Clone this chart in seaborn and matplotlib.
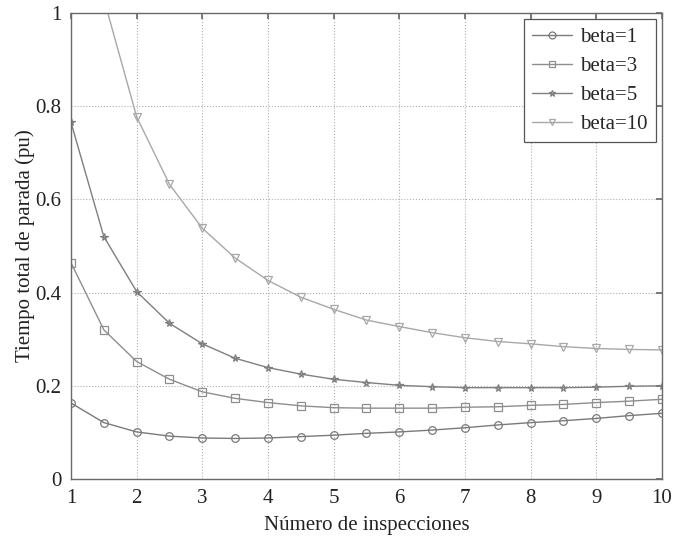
import numpy as np
import pandas as pd
import matplotlib
matplotlib.use("Agg")
import matplotlib.pyplot as plt
import seaborn as sns

x_vals = [1, 1.5, 2, 2.5, 3, 3.5, 4, 4.5, 5, 5.5, 6, 6.5, 7, 7.5, 8, 8.5, 9, 9.5, 10]
beta1 = [0.163, 0.121, 0.101, 0.092, 0.088, 0.087, 0.088, 0.091, 0.094, 0.098, 0.101,
         0.105, 0.110, 0.116, 0.121, 0.125, 0.130, 0.136, 0.141]
beta3 = [0.464, 0.320, 0.252, 0.214, 0.187, 0.173, 0.164, 0.157, 0.153, 0.152, 0.152,
         0.152, 0.154, 0.155, 0.158, 0.160, 0.164, 0.167, 0.171]
beta5 = [0.765, 0.520, 0.402, 0.334, 0.290, 0.259, 0.239, 0.225, 0.214, 0.207, 0.201,
         0.198, 0.196, 0.196, 0.196, 0.196, 0.197, 0.199, 0.200]
beta10 = [1.50, 1.03, 0.777, 0.632, 0.538, 0.474, 0.426, 0.390, 0.364, 0.341, 0.327,
          0.314, 0.303, 0.295, 0.290, 0.284, 0.280, 0.278, 0.277]
labels = ["beta=1", "beta=3", "beta=5", "beta=10"]
series = [beta1, beta3, beta5, beta10]

df = pd.concat([pd.DataFrame({"x": x_vals, "y": s, "serie": lab}) for s, lab in zip(series, labels)])

sns.set_theme(style="white")
plt.rcParams["font.family"] = ["Liberation Serif", "DejaVu Serif"]

fig = plt.figure(figsize=(6.9, 5.39), dpi=100)
ax = fig.add_axes([0.1029, 0.1113, 0.8565, 0.8648])

palette = {"beta=1": "#7a7a7a", "beta=3": "#8e8e8e", "beta=5": "#7f7f7f", "beta=10": "#a8a8a8"}
markers = {"beta=1": "o", "beta=3": "s", "beta=5": "*", "beta=10": "v"}
sns.lineplot(data=df, x="x", y="y", hue="serie", style="serie", palette=palette,
             markers=markers, dashes=False, ax=ax, linewidth=1.0, markersize=5.5,
             markerfacecolor="none", markeredgewidth=0.9, legend=True)
for line in ax.lines:
    line.set_markerfacecolor("none")
    line.set_markeredgecolor(line.get_color())

ax.set_xlim(1, 10)
ax.set_ylim(0, 1)
ax.set_xticks(range(1, 11))
ax.set_yticks([0, 0.2, 0.4, 0.6, 0.8, 1])
ax.set_yticklabels(["0", "0.2", "0.4", "0.6", "0.8", "1"])
ax.grid(True, linestyle=":", color="#b0b0b0", linewidth=0.8)
for sp in ax.spines.values():
    sp.set_color("#6a6a6a")
    sp.set_linewidth(1.0)
ax.tick_params(direction="in", top=True, right=True, length=4, color="#6a6a6a",
               labelsize=15, pad=7, labelcolor="#222222")
ax.set_xlabel("Número de inspecciones", fontsize=15, labelpad=6, color="#222222")
ax.set_ylabel("Tiempo total de parada (pu)", fontsize=15, labelpad=0, color="#222222")

handles, labs = ax.get_legend_handles_labels()
for h in handles:
    h.set_markerfacecolor("none")
    h.set_markersize(5)
leg = ax.legend(handles, labs, loc="upper right", fontsize=15, frameon=True, fancybox=False,
                framealpha=1, edgecolor="#555555", handlelength=1.9, borderaxespad=0.3,
                labelspacing=0.45, handletextpad=0.4, borderpad=0.4)
leg.get_frame().set_linewidth(0.9)

fig.savefig("out.png", dpi=100)
